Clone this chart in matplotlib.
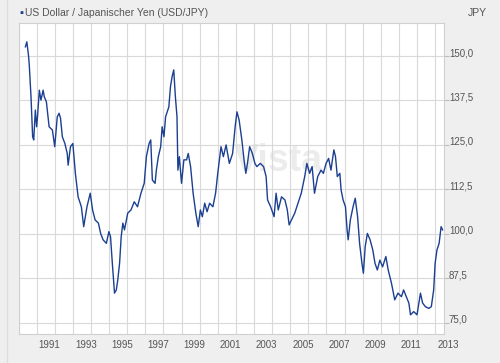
import matplotlib
matplotlib.use('Agg')
import matplotlib.pyplot as plt
from matplotlib.ticker import FuncFormatter
from matplotlib.transforms import ScaledTranslation

plt.rcParams['font.family'] = ['Liberation Sans', 'DejaVu Sans']

# USD/JPY (decimal year, rate)
dates = [
    1990.38, 1990.46, 1990.56, 1990.60, 1990.69, 1990.78, 1990.84, 1990.93,
    1991.00, 1991.05, 1991.15, 1991.24, 1991.36, 1991.42, 1991.54, 1991.69, 1991.87,
    1992.00, 1992.14, 1992.24, 1992.32, 1992.42, 1992.56, 1992.69, 1992.74, 1992.87,
    1993.00, 1993.14, 1993.29, 1993.47, 1993.60, 1993.78, 1993.96,
    1994.09, 1994.23, 1994.41, 1994.54, 1994.67, 1994.85, 1994.99,
    1995.08, 1995.18, 1995.30, 1995.40, 1995.48, 1995.58, 1995.67, 1995.76, 1995.85,
    1996.03, 1996.21, 1996.39, 1996.57, 1996.76, 1996.94,
    1997.06, 1997.21, 1997.30, 1997.39, 1997.54, 1997.61, 1997.72, 1997.85, 1997.93,
    1998.03, 1998.12, 1998.30, 1998.39, 1998.48, 1998.57, 1998.66, 1998.75, 1998.80, 1998.88,
    1999.00, 1999.13, 1999.28, 1999.37, 1999.50, 1999.64, 1999.79, 1999.92,
    2000.04, 2000.15, 2000.28, 2000.41, 2000.55, 2000.73, 2000.88,
    2001.00, 2001.18, 2001.31, 2001.46, 2001.64, 2001.82, 2001.96,
    2002.06, 2002.18, 2002.33, 2002.45, 2002.55, 2002.64, 2002.76, 2002.91,
    2003.05, 2003.16, 2003.35, 2003.53, 2003.67, 2003.75, 2003.92,
    2004.11, 2004.22, 2004.34, 2004.52, 2004.71, 2004.84, 2004.94,
    2005.07, 2005.25, 2005.43, 2005.61, 2005.80, 2005.92,
    2006.07, 2006.21, 2006.34, 2006.52, 2006.70, 2006.83, 2006.98,
    2007.12, 2007.25, 2007.41, 2007.50, 2007.60, 2007.74, 2007.81, 2007.92,
    2008.05, 2008.14, 2008.20, 2008.32, 2008.47, 2008.59, 2008.72, 2008.83, 2008.96,
    2009.04, 2009.14, 2009.26, 2009.41, 2009.56, 2009.68, 2009.81, 2009.95,
    2010.10, 2010.28, 2010.41, 2010.59, 2010.77, 2010.95,
    2011.14, 2011.26, 2011.41, 2011.55, 2011.64, 2011.82,
    2012.00, 2012.19, 2012.31, 2012.46, 2012.65, 2012.79, 2012.92,
    2013.00, 2013.10, 2013.22, 2013.33, 2013.41,
]
rates = [
    152.6, 154.0, 149.8, 147.0, 138.6, 127.3, 126.4, 134.8,
    130.1, 132.9, 140.4, 137.6, 140.4, 138.6, 137.1, 130.1, 129.2,
    124.5, 132.9, 133.9, 132.5, 127.3, 125.4, 122.6, 119.3, 124.5,
    125.4, 117.0, 110.4, 107.6, 102.0, 107.6, 111.4,
    106.7, 103.9, 103.0, 100.0, 98.3, 97.3, 100.6,
    99.2, 91.7, 83.3, 84.2, 87.0, 91.7, 99.2, 103.0, 101.1,
    105.8, 106.7, 109.0, 107.6, 111.4, 114.2,
    121.7, 125.4, 126.4, 115.1, 114.2, 117.9, 121.7, 124.5, 130.1,
    127.3, 132.9, 135.7, 141.4, 144.2, 146.1, 138.6, 132.9, 117.9, 121.7,
    114.2, 120.8, 120.8, 122.6, 118.9, 111.4, 105.8, 102.0,
    106.7, 104.8, 108.6, 106.2, 108.6, 107.6, 111.4,
    117.0, 124.5, 121.7, 125.0, 119.8, 122.6, 130.1,
    134.3, 132.0, 126.4, 120.8, 117.0, 119.8, 124.5, 122.6,
    119.8, 118.9, 119.8, 118.9, 116.1, 109.5, 107.6,
    104.8, 111.4, 106.7, 110.4, 109.5, 106.7, 102.5,
    103.9, 105.8, 108.6, 111.4, 116.1, 119.8,
    117.0, 118.9, 111.4, 116.1, 117.9, 117.0, 119.8,
    121.2, 117.9, 123.6, 121.7, 116.1, 117.0, 112.3, 109.5,
    107.6, 101.1, 98.3, 103.9, 107.6, 110.0, 104.8, 97.3, 91.7,
    88.9, 96.4, 100.1, 98.3, 95.4, 91.7, 89.8, 92.6,
    90.7, 93.6, 89.8, 86.1, 81.4, 83.3,
    82.3, 84.2, 82.3, 80.5, 77.2, 78.1,
    77.2, 83.3, 80.5, 79.5, 79.0, 79.5, 84.2,
    91.7, 95.4, 97.3, 102.0, 101.1,
]
label_years = [1991, 1993, 1995, 1997, 1999, 2001, 2003, 2005, 2007, 2009, 2011, 2013]
grid_years = [1990, 1992, 1994, 1996, 1998, 2000, 2002, 2004, 2006, 2008, 2010, 2012]
y_ticks = [75.0, 87.5, 100.0, 112.5, 125.0, 137.5, 150.0]

fig = plt.figure(figsize=(5.0, 3.63), dpi=100, facecolor='#efefef')
ax = fig.add_axes([18.5/500, 1 - 334/363, (444 - 18.5)/500, (334 - 23)/363])
ax.set_facecolor('white')

# faint watermark
ax.text(0.61, 0.555, 'Vista', transform=ax.transAxes, fontsize=27, fontweight='bold',
        color='#ececec', ha='center', va='center', zorder=0)

ax.plot(dates, rates, color='#1b3f91', lw=1.0, zorder=3)

ax.set_xlim(1990.32, 2013.49)
ax.set_ylim(71.8, 159.3)

ax.set_xticks(label_years)
ax.set_xticks(grid_years, minor=True)
ax.set_xticklabels([str(y) for y in label_years])
ax.tick_params(axis='x', which='both', length=0, pad=4, labelsize=7, labelcolor='#555555')
for lab in ax.get_xticklabels():
    lab.set_ha('left')
    lab.set_transform(lab.get_transform() + ScaledTranslation(2/100, 0, fig.dpi_scale_trans))

ax.yaxis.tick_right()
ax.set_yticks(y_ticks)
ax.yaxis.set_major_formatter(FuncFormatter(lambda v, p: ('%.1f' % v).replace('.', ',')))
ax.tick_params(axis='y', length=3.5, width=0.8, color='#bbbbbb', pad=0,
               labelsize=7, labelcolor='#555555')
for lab in ax.get_yticklabels():
    lab.set_va('baseline')

ax.grid(True, which='both', color='#d9d9d9', lw=0.8)
ax.set_axisbelow(True)
for s in ax.spines.values():
    s.set_color('#d0d0d0')
    s.set_linewidth(0.8)

# header
fig.text(19/500, 1 - 12.5/363, '\u25aa', color='#1b3f91', fontsize=8, va='center', ha='left')
fig.text(25/500, 1 - 12.5/363, 'US Dollar / Japanischer Yen (USD/JPY)', color='#555555',
         fontsize=7.5, va='center', ha='left')
fig.text(468/500, 1 - 12.5/363, 'JPY', color='#555555', fontsize=7.5, va='center', ha='left')
fig.add_artist(plt.Line2D([7/500, 7/500], [0, 1], color='#dddddd', lw=1))

fig.savefig('out.png', dpi=100, facecolor=fig.get_facecolor())
